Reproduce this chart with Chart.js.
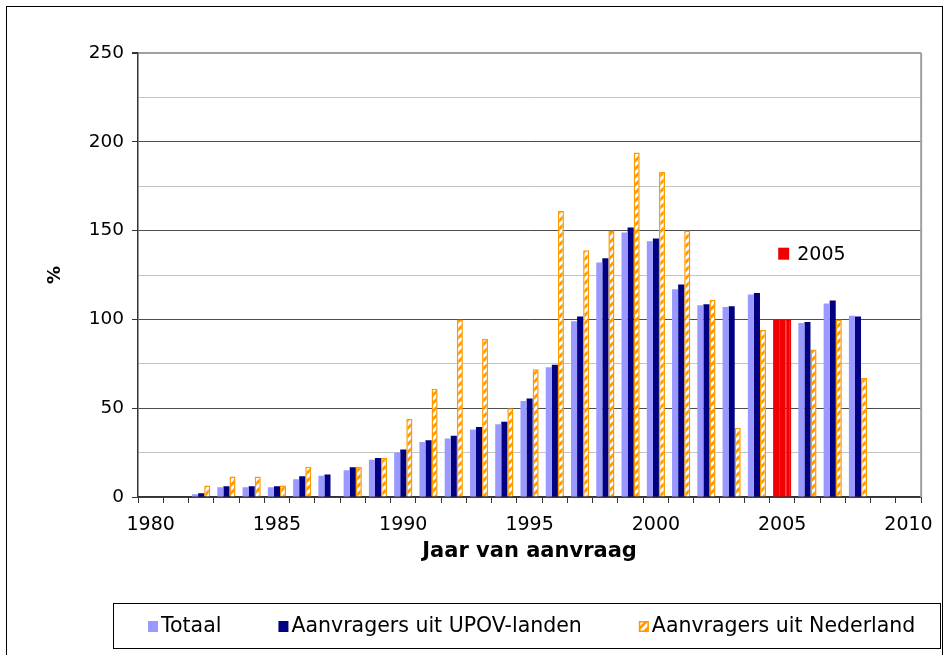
<!DOCTYPE html>
<html>
<head>
<meta charset="utf-8">
<script src="https://cdn.jsdelivr.net/npm/chart.js@4.4.0/dist/chart.umd.min.js"></script>
<style>
    html, body { margin: 0; padding: 0; background: #fff; }
    #wrap { width: 944px; height: 655px; }
</style>
</head>
<body>
<div id="wrap"><canvas id="chart" width="944" height="655"></canvas></div>
<script>
const years = ["1980", "1981", "1982", "1983", "1984", "1985", "1986", "1987", "1988", "1989",
    "1990", "1991", "1992", "1993", "1994", "1995", "1996", "1997", "1998", "1999",
    "2000", "2001", "2002", "2003", "2004", "2005", "2006", "2007", "2008", "2009", "2010"]

// index in % (2005 = 100)
const totaal = [null, null, 1.5, 5.5, 5.5, 5.5, 10, 12, 15, 21,
    25, 31, 33, 38, 41, 54, 73, 99, 132, 149,
    144, 117, 108, 107, 114, 100, 98, 109, 102, null, null]
const upov = [null, null, 2.1, 6, 6, 6, 11.7, 12.6, 16.8, 22,
    26.8, 32, 34.5, 39.4, 42.4, 55.4, 74.5, 101.6, 134.5, 151.7,
    145.5, 119.6, 108.6, 107.4, 114.8, 100, 98.6, 110.6, 101.6, null, null]
const nederland = [null, null, 6.5, 11.5, 11.5, 6.5, 17, null, 17, 22,
    44, 61, 100, 89, 50, 72, 161, 139, 150, 194,
    183, 150, 111, 39, 94, 100, 83, 100, 67, null, null]

const yTicks = [0, 50, 100, 150, 200, 250]
const baseYear = "2005"

const FONT = "'DejaVu Sans', Verdana, sans-serif"
const ORANGE = "#FF9900"
const RED = "#F00000"
const baseIdx = years.indexOf(baseYear)

function makeHatch() {
    const c = document.createElement("canvas")
    c.width = 8
    c.height = 8
    const g = c.getContext("2d")
    g.fillStyle = ORANGE
    g.fillRect(0, 0, 8, 8)
    g.strokeStyle = "#fff"
    g.lineWidth = 3
    g.beginPath()
    g.moveTo(0, 8); g.lineTo(8, 0)
    g.moveTo(-2, 2); g.lineTo(2, -2)
    g.moveTo(6, 10); g.lineTo(10, 6)
    g.stroke()
    return g.createPattern(c, "repeat")
}
const hatch = makeHatch()

const markBase = (color) => (ctx) => (ctx.type === "data" && ctx.dataIndex === baseIdx ? RED : color)

// boxed legend at the bottom, drawn from the chart's own legend items
function drawLegend(chart) {
    const { ctx } = chart
    const items = Chart.defaults.plugins.legend.labels.generateLabels(chart)
    const cy = 626
    let x = 148
    ctx.font = "20.5px " + FONT
    ctx.textBaseline = "middle"
    items.forEach((item, i) => {
        ctx.fillStyle = item.fillStyle
        ctx.fillRect(x, cy - 5, 10, 11)
        if (item.lineWidth) {
            ctx.strokeStyle = item.strokeStyle
            ctx.lineWidth = item.lineWidth
            ctx.strokeRect(x + 0.75, cy - 4.25, 8.5, 9.5)
        }
        ctx.fillStyle = "#000"
        ctx.fillText(item.text, x + 13, cy + 1)
        x += 13 + ctx.measureText(item.text).width + (i < items.length - 1 ? 57 : 0)
    })
    ctx.strokeStyle = "#000"
    ctx.lineWidth = 1
    const right = Math.min(Math.round(x + 25), 940)
    ctx.strokeRect(113.5, cy - 22.5, right - 113, 45)
}

// outer frame, right border of the plot, legend and the "2005" note
const decorations = {
    id: "decorations",
    beforeDraw(chart) {
        const { ctx } = chart
        ctx.save()
        ctx.fillStyle = "#fff"
        ctx.fillRect(0, 0, chart.width, chart.height)
        ctx.strokeStyle = "#000"
        ctx.lineWidth = 1
        ctx.strokeRect(6.5, 6.5, 936, 700)
        ctx.restore()
    },
    afterDraw(chart) {
        const { ctx, chartArea, scales } = chart
        ctx.save()
        ctx.strokeStyle = "#A0A0A0"
        ctx.lineWidth = 2
        ctx.beginPath()
        ctx.moveTo(chartArea.right, chartArea.top)
        ctx.lineTo(chartArea.right, chartArea.bottom)
        ctx.stroke()

        drawLegend(chart)

        const x = scales.x.getPixelForValue(baseIdx)
        const y = scales.y.getPixelForValue(137)
        ctx.fillStyle = RED
        ctx.fillRect(x - 4, y - 6, 11, 12)
        ctx.fillStyle = "#000"
        ctx.font = "19px " + FONT
        ctx.textBaseline = "middle"
        ctx.fillText(baseYear, x + 15, y + 1)
        ctx.restore()
    },
}

new Chart(document.getElementById("chart"), {
    type: "bar",
    data: {
        labels: years,
        datasets: [
            {
                label: "Totaal",
                data: totaal,
                backgroundColor: markBase("#9999FF"),
                borderWidth: 0,
            },
            {
                label: "Aanvragers uit UPOV-landen",
                data: upov,
                backgroundColor: markBase("#000080"),
                borderWidth: 0,
            },
            {
                label: "Aanvragers uit Nederland",
                data: nederland,
                backgroundColor: markBase(hatch),
                borderColor: markBase(ORANGE),
                borderWidth: 1.5,
            },
        ],
    },
    options: {
        responsive: false,
        animation: false,
        categoryPercentage: 0.72,
        barPercentage: 1,
        layout: { padding: { left: 38, right: 19, top: 53, bottom: 85.25 } },
        plugins: {
            tooltip: { enabled: false },
            legend: { display: false },
        },
        scales: {
            x: {
                afterFit: (s) => { s.height = 72.75 },
                grid: {
                    offset: true,
                    drawOnChartArea: false,
                    drawTicks: true,
                    tickLength: 6,
                    tickColor: "#333",
                },
                border: { color: "#333", width: 1.5 },
                ticks: {
                    autoSkip: false,
                    maxRotation: 0,
                    padding: 11,
                    color: "#000",
                    font: { family: FONT, size: 19 },
                    callback: (v, i) => (i % 5 === 0 ? years[i] : ""),
                },
                title: {
                    display: true,
                    text: "Jaar van aanvraag",
                    color: "#000",
                    font: { family: FONT, size: 21, weight: "bold" },
                    padding: { top: 0, bottom: 6 },
                },
            },
            y: {
                min: 0,
                max: 250,
                afterFit: (s) => { s.width = 100 },
                grid: {
                    color: (ctx) => (ctx.tick.value === 250 ? "#A0A0A0" : ctx.tick.value % 50 === 0 ? "#4D4D4D" : "#C4C4C4"),
                    lineWidth: (ctx) => (ctx.tick.value === 250 ? 2 : 1),
                    tickLength: 6,
                    tickColor: (ctx) => (yTicks.includes(ctx.tick.value) ? "#333" : "rgba(0,0,0,0)"),
                },
                border: { color: "#333", width: 1.5 },
                ticks: {
                    stepSize: 25,
                    padding: 8,
                    color: "#000",
                    font: { family: FONT, size: 18.5 },
                    callback: (v) => (yTicks.includes(v) ? v : ""),
                },
                title: {
                    display: true,
                    text: "%",
                    color: "#000",
                    font: { family: FONT, size: 18, weight: "bold" },
                    padding: { top: 7, bottom: 0 },
                },
            },
        },
    },
    plugins: [decorations],
})
</script>
</body>
</html>
